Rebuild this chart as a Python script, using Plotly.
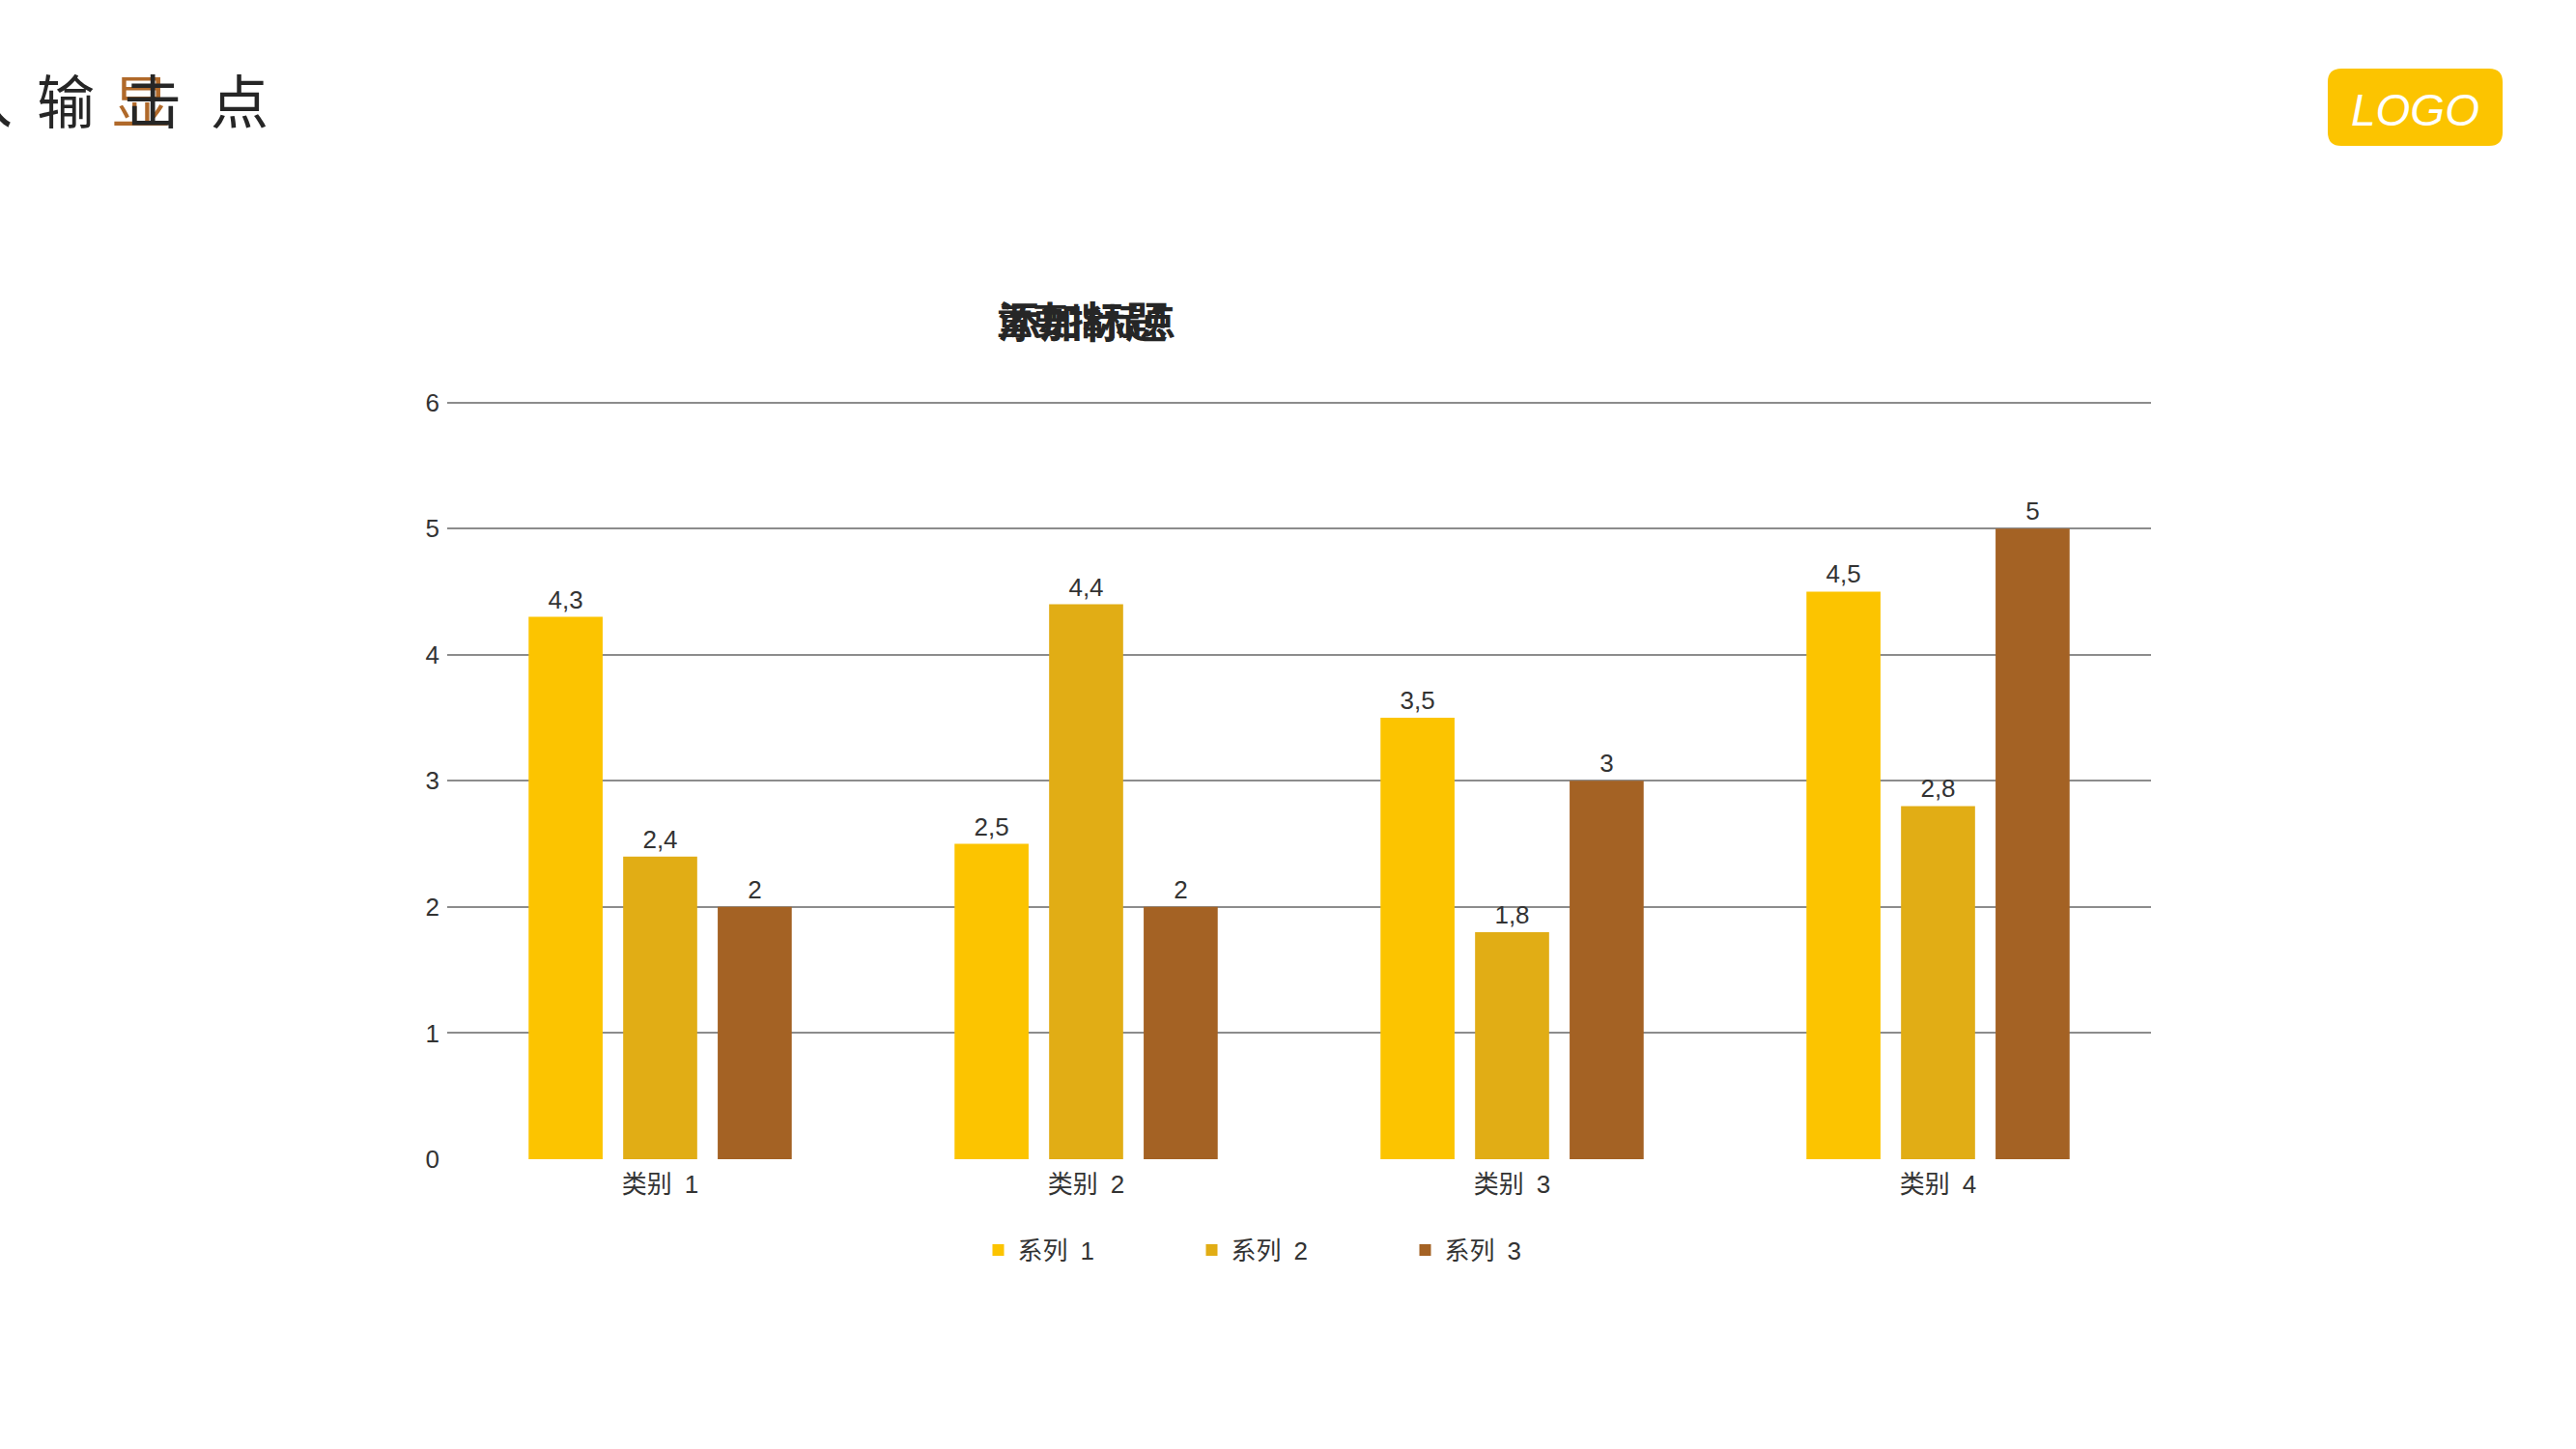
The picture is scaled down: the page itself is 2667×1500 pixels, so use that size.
import plotly.graph_objects as go

categories = ['类别\u20021', '类别\u20022', '类别\u20023', '类别\u20024']
series_names = ['系列\u20021', '系列\u20022', '系列\u20023']
series_1 = [4.3, 2.5, 3.5, 4.5]
series_2 = [2.4, 4.4, 1.8, 2.8]
series_3 = [2, 2, 3, 5]
colors = ['#FCC400', '#E1AD15', '#A46224']
y_ticks = [0, 1, 2, 3, 4, 5, 6]

W, H = 2667, 1500
L, R, T, B = 463, 440, 414, 300
PW, PH = W - L - R, H - T - B


def px(x):
    return (x - L) / PW


def py(y):
    return (H - B - y) / PH


def fmt(v):
    return str(v).replace('.', ',')


font_fam = 'Liberation Sans, Arial, Noto Sans CJK SC, sans-serif'

fig = go.Figure()
for name, vals, col in zip(series_names, [series_1, series_2, series_3], colors):
    fig.add_trace(go.Bar(
        x=categories, y=vals, name=name, marker=dict(color=col, line=dict(width=0)),
        text=[fmt(v) for v in vals], textposition='outside', cliponaxis=False,
        textfont=dict(size=26, color='#333333', family=font_fam),
    ))

fig.update_layout(
    width=W, height=H, autosize=False,
    margin=dict(l=L, r=R, t=T, b=B),
    paper_bgcolor='white', plot_bgcolor='white',
    barmode='group', bargap=0.334, bargroupgap=0.217,
    font=dict(family=font_fam, color='#333333', size=26),
    showlegend=True,
    legend=dict(orientation='h', x=0.5, xanchor='center', y=py(1294), yanchor='middle',
                font=dict(size=26, color='#333333'), itemwidth=30,
                traceorder='normal', entrywidth=176),
)
fig.update_yaxes(range=[0, 6.02], tickvals=y_ticks, showgrid=True, gridcolor='#8C8C8C',
                 gridwidth=2, zeroline=False, showline=False, ticks='',
                 tickfont=dict(size=26, color='#333333'), ticklabelstandoff=7)
fig.update_xaxes(showgrid=False, showline=False, ticks='', ticklabelstandoff=8,
                 tickfont=dict(size=26, color='#333333'))

# chart title (overlapping text as in the source)
fig.add_annotation(text='<b>添加标题</b>', xref='paper', yref='paper', x=px(1121), y=py(331),
                   xanchor='center', yanchor='middle', showarrow=False,
                   font=dict(size=44, color='#262626', family='Noto Sans CJK SC'))
fig.add_annotation(text='<b>重要指标点</b>', xref='paper', yref='paper', x=px(1124), y=py(331),
                   xanchor='center', yanchor='middle', showarrow=False,
                   font=dict(size=37, color='#262626', family='Noto Sans CJK SC'))

# top-left heading fragments
for ch, cx, col in [('入', -17, '#262626'), ('输', 68, '#262626'), ('显', 146, '#B0692A'),
                    ('击', 158, '#262626'), ('点', 248, '#262626')]:
    fig.add_annotation(text=ch, xref='paper', yref='paper', x=px(cx), y=py(101),
                       xanchor='center', yanchor='middle', showarrow=False,
                       font=dict(size=60, color=col, family='Noto Sans CJK SC'))

# logo
x0, x1, y0, y1, r = 2410, 2591, 71, 151, 14
path = (f'M {px(x0 + r)} {py(y0)} L {px(x1 - r)} {py(y0)} Q {px(x1)} {py(y0)} {px(x1)} {py(y0 + r)} '
        f'L {px(x1)} {py(y1 - r)} Q {px(x1)} {py(y1)} {px(x1 - r)} {py(y1)} '
        f'L {px(x0 + r)} {py(y1)} Q {px(x0)} {py(y1)} {px(x0)} {py(y1 - r)} '
        f'L {px(x0)} {py(y0 + r)} Q {px(x0)} {py(y0)} {px(x0 + r)} {py(y0)} Z')
fig.add_shape(type='path', path=path, xref='paper', yref='paper',
              fillcolor='#FCC400', line=dict(width=0))
fig.add_annotation(text='<i>LOGO</i>', xref='paper', yref='paper', x=px(2500), y=py(114),
                   xanchor='center', yanchor='middle', showarrow=False,
                   font=dict(size=46, color='white', family='Liberation Sans'))

fig.write_html('out.html', config={'displayModeBar': False},
               post_script="document.body.style.margin='0px';")
